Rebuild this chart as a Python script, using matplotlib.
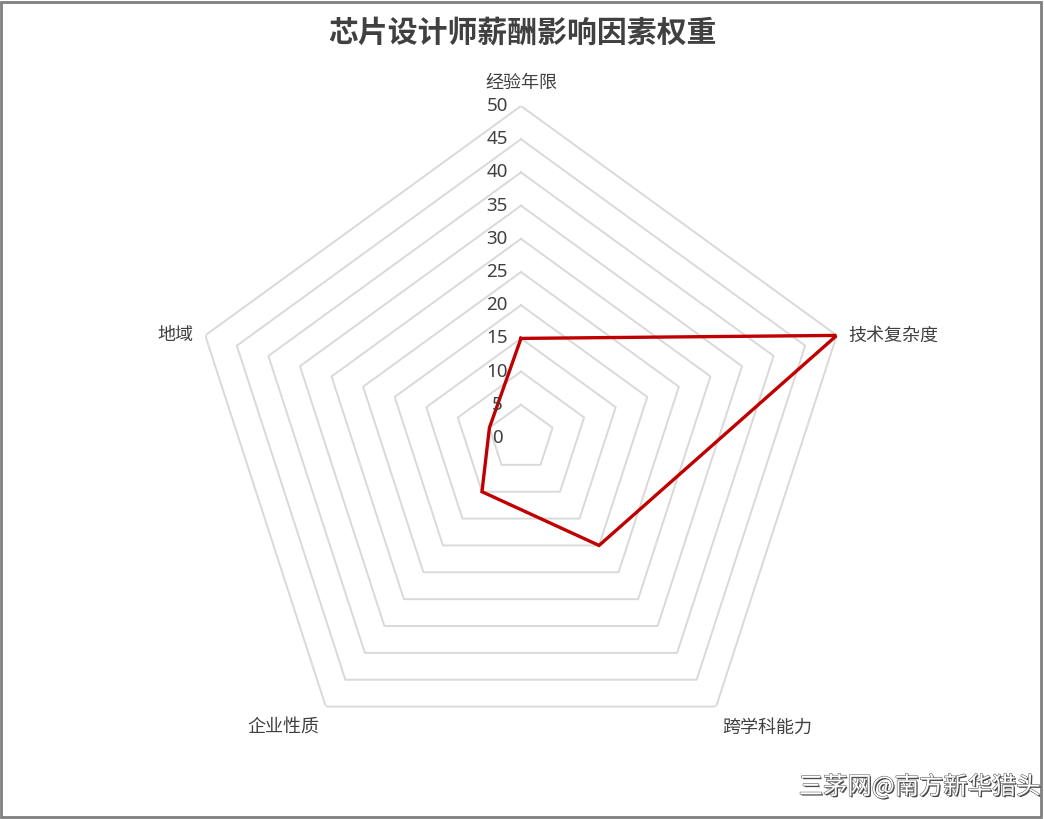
import numpy as np
import matplotlib.pyplot as plt
import matplotlib.patheffects as pe
from matplotlib.patches import Rectangle

plt.rcParams['font.family'] = ['Noto Sans CJK SC', 'DejaVu Sans']

# data
categories = ['经验年限', '技术复杂度', '跨学科能力', '企业性质', '地域']
weights = [15, 50, 20, 10, 5]
levels = [0, 5, 10, 15, 20, 25, 30, 35, 40, 45, 50]
title = '芯片设计师薪酬影响因素权重'
watermark = '三茅网@南方新华猎头'

W, H = 1044, 819
fig = plt.figure(figsize=(W / 100, H / 100), dpi=100)

# polar axes: centre ~ (521, 438) px, radius 332 px
cx, cy, R = 521, 438, 332
ax = fig.add_axes([(cx - R) / W, (H - cy - R) / H, 2 * R / W, 2 * R / H], projection='polar')
ax.set_theta_offset(np.pi / 2)
ax.set_theta_direction(-1)
ax.set_ylim(0, 50)
ax.axis('off')

n = len(categories)
angles = np.linspace(0, 2 * np.pi, n, endpoint=False)
closed = np.concatenate([angles, angles[:1]])

# polygon grid
for lv in levels[1:]:
    ax.plot(closed, [lv] * (n + 1), color='#d9d9d9', lw=1.4, zorder=1)

# radial tick labels
for lv in levels:
    ax.annotate(str(lv), xy=(0, lv), xytext=(-24, 0), textcoords='offset pixels',
                ha='center', va='center', fontsize=13.5, color='#404040', zorder=3,
                family=['Noto Sans', 'DejaVu Sans'])

# data line
vals = weights + weights[:1]
ax.plot(closed, vals, color='#c00000', lw=2.4, zorder=2, solid_joinstyle='miter')

# category labels
label_pos = [(0, 14, 'center', 'bottom'), (12, 0, 'left', 'center'),
             (6, -12, 'left', 'top'), (-6, -12, 'right', 'top'),
             (-12, 0, 'right', 'center')]
for ang, cat, (dx, dy, ha, va) in zip(angles, categories, label_pos):
    ax.annotate(cat, xy=(ang, 50), xytext=(dx, dy), textcoords='offset pixels',
                ha=ha, va=va, fontsize=13, color='#404040')

fig.text(0.5, 1 - 33 / H, title, ha='center', va='center', fontsize=21.5,
         fontweight='bold', color='#404040')

fig.text(1 - 4 / W, 1 - 787 / H, watermark, ha='right', va='center', fontsize=17.5,
         color='white',
         path_effects=[pe.withSimplePatchShadow(offset=(1, -1), shadow_rgbFace='#303030', alpha=0.9),
                       pe.Stroke(linewidth=0.8, foreground='#606060'), pe.Normal()])

fig.patches.append(Rectangle((0.001, 0.002), 0.996, 0.995, transform=fig.transFigure,
                             fill=False, edgecolor='#808080', lw=2))

fig.savefig('out.png', dpi=100)
